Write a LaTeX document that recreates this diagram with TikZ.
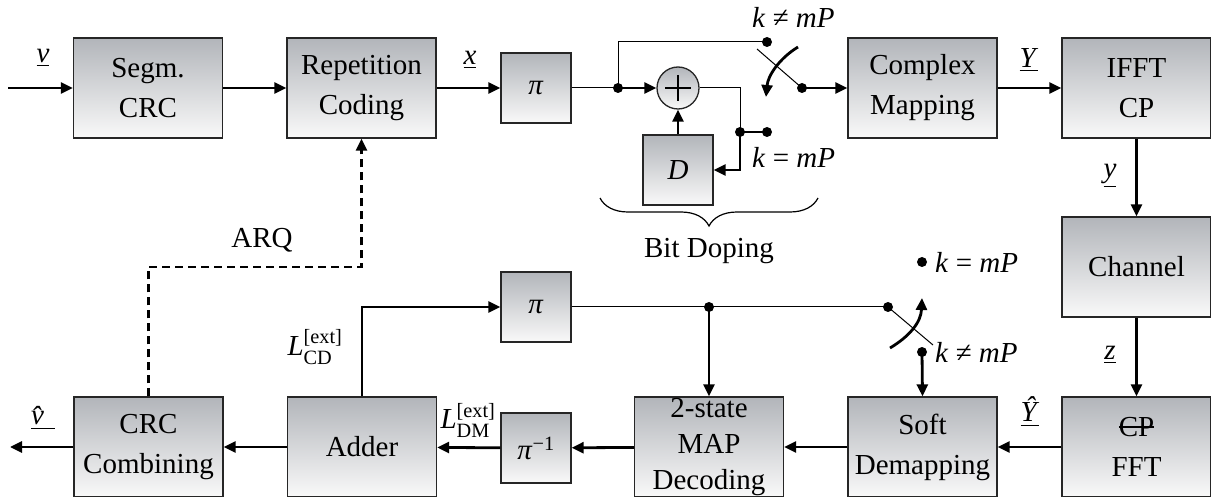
\documentclass[tikz,border=0pt]{standalone}
\usepackage{amsmath}
\usepackage{fontspec}
\setmainfont{Liberation Serif}
\usetikzlibrary{arrows.meta,decorations.pathreplacing}
\definecolor{boxtop}{HTML}{B2B5BA}
\definecolor{boxbot}{HTML}{F9F9F9}
\newcommand{\vi}[1]{\textit{#1}}
\newcommand{\strk}[1]{\setbox0\hbox{#1}\rlap{\rule[0.3em]{\wd0}{1.6pt}}\box0}
\tikzset{
  blk/.style={draw=black!85, line width=1.3pt, top color=boxtop, bottom color=boxbot,
    minimum width=149pt, minimum height=100pt, inner sep=0pt, align=center,
    font=\fontsize{29}{40}\selectfont},
  sblk/.style={blk, minimum width=70pt, minimum height=70pt},
  sumnode/.style={circle, draw=black!85, line width=1.3pt, top color=boxtop,
    bottom color=boxbot, minimum size=42pt, inner sep=0pt},
  edge/.style={-{Triangle[length=12pt,width=11pt]}, line width=2.8pt},
  wire/.style={line width=1pt},
  jdot/.style={circle, fill=black, inner sep=0pt, minimum size=10pt},
  lbl/.style={font=\fontsize{29}{34}\selectfont, inner sep=0pt},
}
\begin{document}
\begin{tikzpicture}[x=1pt,y=-1pt]
  \useasboundingbox (0,0) rectangle (1211,497);
  % transmitter
  \node[blk] (segm) at (148,88) {Segm.\\CRC};
  \node[blk] (rep) at (361.5,88) {Repetition\\Coding};
  \node[sblk] (pi1) at (536,88) {\vi{π}};
  \node[sumnode] (add) at (678,88) {};
  \node[sblk] (dly) at (678,170) {\vi{D}};
  \node[blk] (cmap) at (922.5,88) {Complex\\Mapping};
  \node[blk] (ifft) at (1136.5,88) {IFFT\\CP};
  \node[blk] (chan) at (1136.5,267) {Channel};
  % receiver
  \node[blk] (fft) at (1136.5,447) {\strk{CP}\\FFT};
  \node[blk] (soft) at (922.5,447) {Soft\\Demapping};
  \node[blk, font=\fontsize{29}{36}\selectfont] (map) at (709,447) {2-state\\MAP\\Decoding};
  \node[sblk] (pinv) at (536,448) {\vi{π}\textsuperscript{−1}};
  \node[blk] (adder) at (362,447) {Adder};
  \node[blk] (crc) at (148.5,447) {CRC\\Combining};
  \node[sblk] (pi2) at (536,307) {\vi{π}};
  % junctions and switch contacts
  \coordinate (in) at (8,88);
  \coordinate (out) at (10,447);
  \node[jdot] (j1) at (618,88) {};
  \node[jdot] (up1) at (767,42) {};
  \node[jdot] (j2) at (740,132) {};
  \node[jdot] (lo1) at (767,132) {};
  \node[jdot] (piv1) at (802,88) {};
  \coordinate (bl1) at (757,49);
  \node[jdot] (j3) at (709,307) {};
  \node[jdot] (piv2) at (888,307) {};
  \node[jdot] (up2) at (922,262) {};
  \node[jdot] (lo2) at (922,352) {};
  \coordinate (bl2) at (933,345);
  \coordinate (arq) at (361.5,267);
  % plus sign
  \draw[line width=1.3pt] (add.center) +(-13,0) -- +(13,0) +(0,-13) -- +(0,13);
  % forward chain
  \draw[edge] (in) -- (segm);
  \draw[edge] (segm) -- (rep);
  \draw[edge] (rep) -- (pi1);
  \draw[wire] (pi1.east) -- (j1.center);
  \draw[wire] (j1.center) |- (up1.center);
  \draw[edge] (j1.center) -- (add);
  \draw[wire] (add.east) -| (j2.center);
  \draw[line width=2.8pt] (j2.center) -- (lo1.center);
  \draw[edge] (j2.center) |- (dly.east);
  \draw[edge] (dly) -- (add);
  \draw[wire] (piv1.center) -- (bl1);
  \draw[edge] (798,47) .. controls (780,58) and (768,75) .. (766,97);
  \draw[edge] (piv1.center) -- (cmap);
  \draw[edge] (cmap) -- (ifft);
  \draw[edge] (ifft) -- (chan);
  \draw[edge] (chan) -- (fft);
  % receiver chain
  \draw[edge] (fft) -- (soft);
  \draw[edge] (soft) -- (map);
  \draw[edge] (map) -- (pinv);
  \draw[edge] (pinv) -- (adder);
  \draw[edge] (adder) -- (crc);
  \draw[edge] (crc) -- (out);
  \draw[edge] (adder.north) |- (pi2.west);
  \draw[wire] (pi2.east) -- (piv2.center);
  \draw[edge] (j3.center) -- (map.north);
  \draw[wire] (piv2.center) -- (bl2);
  \draw[edge] (890,348) .. controls (910,336) and (921,322) .. (922,298);
  \draw[edge] (lo2.center) -- (soft.north);
  \draw[edge, dashed, dash pattern=on 8pt off 5pt] (crc.north) |- (arq) -- (rep.south);
  % brace
  \draw[decorate, decoration={brace, amplitude=28pt, mirror}, line width=1.2pt]
    (600,198) -- (818,198) node[lbl, midway, yshift=-53pt] (bitdop) {Bit Doping};
  % labels
  \node[lbl] (lv) at (43,58) {\underline{\vi{v}}};
  \node[lbl] (lx) at (470,60) {\underline{\vi{x}}};
  \node[lbl] (lY) at (1029,60) {\underline{\vi{Y}}};
  \node[lbl] (ly) at (1110,176) {\underline{\vi{y}}};
  \node[lbl] (lz) at (1110,355) {\underline{\vi{z}}};
  \node[lbl] (lYh) at (1030,412) {\underline{\vi{Ŷ}}};
  \node[lbl] (lvh) at (43,418) {\underline{\vi{v̂}}};
  \node[lbl] (lcd) at (315,347) {$\text{\vi{L}}_{\text{CD}}^{\text{[ext]}}$};
  \node[lbl] (ldm) at (468,420) {$\text{\vi{L}}_{\text{DM}}^{\text{[ext]}}$};
  \node[lbl, anchor=west] (k1) at (752,17) {\vi{k} ≠ \vi{mP}};
  \node[lbl, anchor=west] (k2) at (752,157) {\vi{k} = \vi{mP}};
  \node[lbl, anchor=west] (k3) at (935,262) {\vi{k} = \vi{mP}};
  \node[lbl, anchor=west] (k4) at (935,352) {\vi{k} ≠ \vi{mP}};
  \node[lbl] (larq) at (262,240) {ARQ};
\end{tikzpicture}
\end{document}
